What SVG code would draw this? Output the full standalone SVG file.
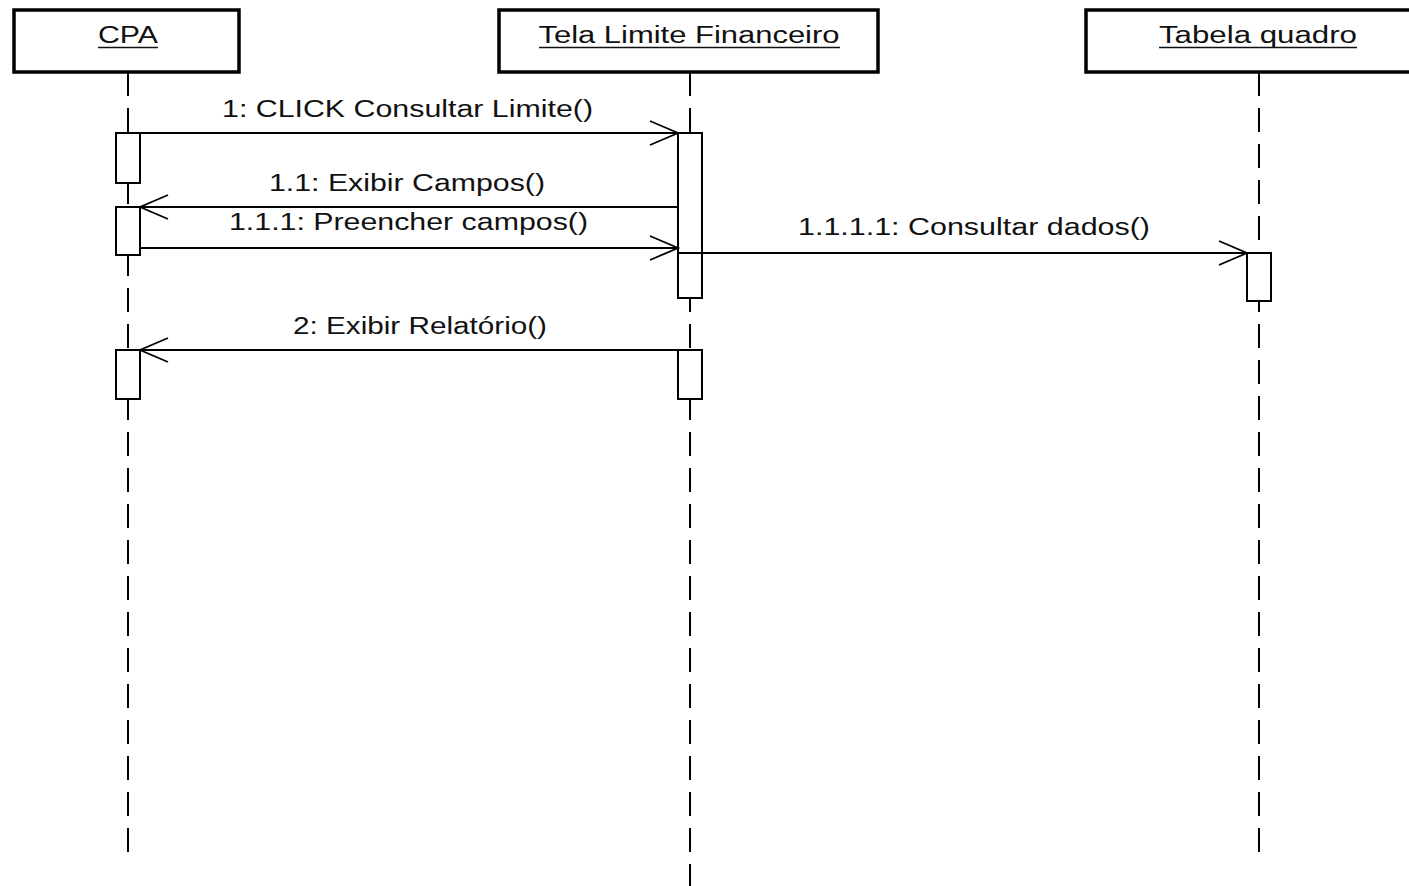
<svg xmlns="http://www.w3.org/2000/svg" width="1409" height="886" viewBox="0 0 1409 886">
<style>
  .hdr { fill: #fff; stroke: #000; stroke-width: 3.5; }
  .life { stroke: #000; stroke-width: 2; stroke-dasharray: 24 12; fill: none; }
  .act { fill: #fff; stroke: #000; stroke-width: 2; }
  .msg { stroke: #000; stroke-width: 1.8; fill: none; }
  .head { stroke: #000; stroke-width: 1.8; fill: none; }
  .t { font-family: "Liberation Sans", Arial, sans-serif; font-size: 23px; fill: #111; text-anchor: middle; }
  .ul { stroke: #111; stroke-width: 1.6; }
</style>
<rect width="1409" height="886" fill="#fff"/>
<g id="lifelines">
  <line class="life" x1="128" y1="72" x2="128" y2="852"/>
  <line class="life" x1="690" y1="72" x2="690" y2="888"/>
  <line class="life" x1="1259" y1="72" x2="1259" y2="852"/>
</g>
<g id="node-cpa">
  <rect class="hdr" x="14" y="10" width="225" height="62"/>
  <text class="t" x="128" y="43" textLength="60" lengthAdjust="spacingAndGlyphs">CPA</text>
  <line class="ul" x1="98" y1="47.5" x2="158" y2="47.5"/>
</g>
<g id="node-tela">
  <rect class="hdr" x="499" y="10" width="379" height="62"/>
  <text class="t" x="689" y="43" textLength="301" lengthAdjust="spacingAndGlyphs">Tela Limite Financeiro</text>
  <line class="ul" x1="539" y1="47.5" x2="840" y2="47.5"/>
</g>
<g id="node-tabela">
  <rect class="hdr" x="1086" y="10" width="340" height="62"/>
  <text class="t" x="1258" y="43" textLength="198" lengthAdjust="spacingAndGlyphs">Tabela quadro</text>
  <line class="ul" x1="1159" y1="47.5" x2="1357" y2="47.5"/>
</g>
<g id="activations">
  <rect class="act" x="116" y="133" width="24" height="50"/>
  <rect class="act" x="116" y="207" width="24" height="48"/>
  <rect class="act" x="116" y="350" width="24" height="49"/>
  <rect class="act" x="678" y="133" width="24" height="120"/>
  <rect class="act" x="678" y="253" width="24" height="45"/>
  <rect class="act" x="678" y="350" width="24" height="49"/>
  <rect class="act" x="1247" y="253" width="24" height="48"/>
</g>
<g id="connectors">
  <line class="msg" x1="140" y1="133" x2="678" y2="133"/>
  <polyline class="head" points="650,121 678,133 650,145"/>
  <line class="msg" x1="678" y1="207" x2="140" y2="207"/>
  <polyline class="head" points="168,195 140,207 168,219"/>
  <line class="msg" x1="140" y1="248" x2="678" y2="248"/>
  <polyline class="head" points="650,236 678,248 650,260"/>
  <line class="msg" x1="702" y1="253" x2="1247" y2="253"/>
  <polyline class="head" points="1219,241 1247,253 1219,265"/>
  <line class="msg" x1="678" y1="350" x2="140" y2="350"/>
  <polyline class="head" points="168,338 140,350 168,362"/>
</g>
<g id="labels">
  <text class="t" x="407.5" y="117" textLength="371" lengthAdjust="spacingAndGlyphs">1: CLICK Consultar Limite()</text>
  <text class="t" x="407" y="191" textLength="276" lengthAdjust="spacingAndGlyphs">1.1: Exibir Campos()</text>
  <text class="t" x="408.5" y="230" textLength="359" lengthAdjust="spacingAndGlyphs">1.1.1: Preencher campos()</text>
  <text class="t" x="974" y="235" textLength="352" lengthAdjust="spacingAndGlyphs">1.1.1.1: Consultar dados()</text>
  <text class="t" x="420" y="334" textLength="254" lengthAdjust="spacingAndGlyphs">2: Exibir Relatório()</text>
</g>
</svg>
